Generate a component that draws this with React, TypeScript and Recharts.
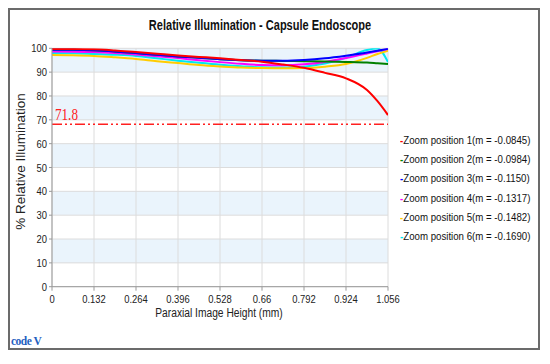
import React from 'react';
import { LineChart, Line, XAxis, YAxis, CartesianGrid, ReferenceLine, Legend, Label } from 'recharts';

const xValues = [0, 0.066, 0.132, 0.198, 0.264, 0.33, 0.396, 0.462, 0.528, 0.594, 0.66, 0.726, 0.792, 0.858, 0.924, 0.99, 1.023, 1.056];

const zoom1 = [99.7, 99.7, 99.6, 99.1, 98.4, 97.7, 97.0, 96.4, 95.8, 95.1, 94.4, 93.2, 91.8, 89.7, 87.4, 82.5, 77.8, 72.0];
const zoom2 = [99.4, 99.4, 99.2, 98.7, 98.0, 97.3, 96.6, 96.0, 95.4, 95.0, 94.8, 94.7, 94.6, 94.5, 94.3, 94.0, 93.7, 93.4];
const zoom3 = [99.4, 99.4, 99.2, 98.7, 98.0, 97.3, 96.6, 96.0, 95.4, 95.0, 94.8, 94.8, 95.1, 95.8, 96.9, 98.2, 99.0, 99.8];
const zoom4 = [98.7, 98.6, 98.4, 98.0, 97.4, 96.7, 95.9, 95.0, 94.2, 93.5, 93.0, 92.9, 93.3, 94.3, 95.9, 97.8, 98.8, 99.7];
const zoom5 = [97.2, 97.1, 96.8, 96.2, 95.5, 94.6, 93.8, 93.0, 92.4, 91.9, 91.7, 91.6, 91.7, 92.3, 93.4, 96.0, 97.6, 99.0];
const zoom6 = [98.0, 97.9, 97.6, 97.3, 96.8, 95.8, 94.8, 93.9, 93.1, 92.5, 92.0, 91.9, 92.3, 93.6, 96.0, 99.3, 99.9, 94.2];

const seriesNames = [
  'Zoom position 1(m = -0.0845)',
  'Zoom position 2(m = -0.0984)',
  'Zoom position 3(m = -0.1150)',
  'Zoom position 4(m = -0.1317)',
  'Zoom position 5(m = -0.1482)',
  'Zoom position 6(m = -0.1690)',
];
const seriesKeys = ['z1', 'z2', 'z3', 'z4', 'z5', 'z6'];
const seriesValues = [zoom1, zoom2, zoom3, zoom4, zoom5, zoom6];
const seriesColors = ['#ff0000', '#008000', '#0000ff', '#ff00ff', '#ffcc00', '#00e8f0'];

const xTicks = [0, 0.132, 0.264, 0.396, 0.528, 0.66, 0.792, 0.924, 1.056];
const yTicks = [0, 10, 20, 30, 40, 50, 60, 70, 80, 90, 100];

const refLineValue = 68.1;
const refLineLabel = '71.8';

const titleText = 'Relative Illumination - Capsule Endoscope';
const xLabelText = 'Paraxial Image Height (mm)';
const yLabelText = '% Relative Illumination';

const data = xValues.map((x, i) => {
  const row: Record<string, number> = { x };
  seriesKeys.forEach((k, s) => {
    row[k] = seriesValues[s][i];
  });
  return row;
});

const SANS = '"Liberation Sans", Arial, sans-serif';
const SERIF = '"Liberation Serif", "Times New Roman", serif';
const SQ = 0.82;

const XTick = (props: any) => {
  const { x, y, payload } = props;
  return (
    <g transform={`translate(${x},${y})`}>
      <text transform={`scale(${SQ},1)`} textAnchor="middle" dy="0.71em" fontFamily={SANS} fontSize={11.5} fill="#222">
        {String(payload.value)}
      </text>
    </g>
  );
};

const YTick = (props: any) => {
  const { x, y, payload } = props;
  return (
    <g transform={`translate(${x},${y})`}>
      <text transform={`scale(${SQ},1)`} textAnchor="end" dy="0.355em" fontFamily={SANS} fontSize={11.5} fill="#222">
        {String(payload.value)}
      </text>
    </g>
  );
};

const XLabel = (props: any) => {
  const vb = props.viewBox || { x: 0, y: 0, width: 0, height: 0 };
  const cx = vb.x + vb.width / 2 - 1;
  const cy = vb.y + vb.height;
  return (
    <g transform={`translate(${cx},${cy})`}>
      <text transform={`scale(${SQ},1)`} textAnchor="middle" fontFamily={SANS} fontSize={12.5} fill="#222">
        {xLabelText}
      </text>
    </g>
  );
};

const YLabel = (props: any) => {
  const vb = props.viewBox || { x: 0, y: 0, width: 0, height: 0 };
  const cx = vb.x + 10;
  const cy = vb.y + vb.height / 2 - 6;
  return (
    <text
      x={cx}
      y={cy}
      transform={`rotate(-90 ${cx} ${cy})`}
      textAnchor="middle"
      dominantBaseline="central"
      fontFamily={SANS}
      fontSize={13.5}
      fill="#222"
    >
      {yLabelText}
    </text>
  );
};

const RefLabel = (props: any) => {
  const vb = props.viewBox || { x: 0, y: 0, width: 0, height: 0 };
  return (
    <g transform={`translate(${vb.x + 3},${vb.y - 4.5})`}>
      <text transform={`scale(${SQ},1)`} textAnchor="start" fontFamily={SERIF} fontSize={16} fill="#ff2020">
        {refLineLabel}
      </text>
    </g>
  );
};

const LegendContent = (props: any) => {
  const payload = [...(props.payload || [])].sort(
    (a: any, b: any) => seriesNames.indexOf(a.value) - seriesNames.indexOf(b.value)
  );
  return (
    <div style={{ paddingLeft: 12 }}>
      {payload.map((p: any) => {
        const idx = seriesNames.indexOf(p.value);
        const color = seriesColors[idx] || p.color;
        return (
          <div
            key={p.value}
            style={{
              height: 19.2,
              lineHeight: '19.2px',
              fontFamily: SANS,
              fontSize: 11.8,
              color: '#111',
              whiteSpace: 'nowrap',
              transform: `scaleX(${SQ})`,
              transformOrigin: 'left center',
            }}
          >
            <span style={{ color, fontWeight: 'bold' }}>-</span>
            <span>{p.value}</span>
          </div>
        );
      })}
    </div>
  );
};

export default function App() {
  return (
    <div
      style={{
        position: 'relative',
        width: 528,
        height: 338,
        border: '2px solid #6b6b6b',
        background: '#fff',
      }}
    >
      <LineChart
        width={528}
        height={338}
        data={data}
        margin={{ top: 38.3, right: 10, bottom: 31.3, left: 0 }}
      >
        <CartesianGrid
          stroke="#dcdcdc"
          horizontalFill={['#ffffff', '#eaf4fc']}
          fillOpacity={1}
        />
        <XAxis
          dataKey="x"
          type="number"
          domain={[0, 1.056]}
          ticks={xTicks}
          interval={0}
          height={30}
          tickSize={4}
          tickMargin={4}
          stroke="#999"
          tick={<XTick />}
          allowDataOverflow
        >
          <Label content={<XLabel />} />
        </XAxis>
        <YAxis
          type="number"
          domain={[0, 100]}
          ticks={yTicks}
          interval={0}
          width={42}
          tickSize={3}
          tickMargin={2}
          stroke="#999"
          tick={<YTick />}
          allowDataOverflow
        >
          <Label content={<YLabel />} />
        </YAxis>
        <ReferenceLine
          y={refLineValue}
          stroke="#ff2020"
          strokeWidth={1.5}
          strokeDasharray="10 3 2 3 2 3"
          label={<RefLabel />}
        />
        {[5, 4, 3, 1, 2, 0].map((s) => (
          <Line
            key={seriesKeys[s]}
            dataKey={seriesKeys[s]}
            name={seriesNames[s]}
            type="monotone"
            stroke={seriesColors[s]}
            strokeWidth={2}
            dot={false}
            activeDot={false}
            isAnimationActive={false}
          />
        ))}
        <Legend
          layout="vertical"
          align="right"
          verticalAlign="middle"
          width={140}
          content={<LegendContent />}
          wrapperStyle={{ top: 121 }}
        />
      </LineChart>
      <div
        style={{
          position: 'absolute',
          left: 0,
          width: 500,
          top: 7.5,
          textAlign: 'center',
          fontFamily: SANS,
          fontWeight: 'bold',
          fontSize: 14.5,
          lineHeight: '14px',
          color: '#111',
          transform: 'scaleX(0.76)',
          transformOrigin: 'center',
        }}
      >
        {titleText}
      </div>
      <div
        style={{
          position: 'absolute',
          left: 1,
          top: 326,
          fontFamily: SERIF,
          fontWeight: 'bold',
          fontSize: 11.5,
          lineHeight: '11px',
          color: '#1f5fbf',
          letterSpacing: -0.5,
        }}
      >
        code V
      </div>
    </div>
  );
}
